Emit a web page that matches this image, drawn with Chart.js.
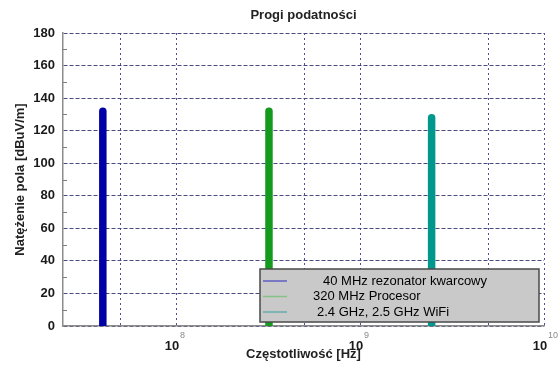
<!DOCTYPE html>
<html>
<head>
<meta charset="utf-8">
<script src="https://cdn.jsdelivr.net/npm/chart.js@4"></script>
<style>
  body { margin: 0; background: #fff; }
  #wrap { width: 560px; height: 374px; }
</style>
</head>
<body>
<div id="wrap"><canvas id="progiChart"></canvas></div>
<script>
// data
const chartTitle = 'Progi podatności';
const sources = ['40 MHz rezonator kwarcowy', '320 MHz Procesor', '2.4 GHz, 2.5 GHz WiFi'];
const frequencies = [[4e7], [3.2e8], [2.45e9]];   // Hz (the WiFi pair shows as one bar)
const levels = [132, 132, 128];                   // dBuV/m
const xTicks = [5e7, 1e8, 5e8, 1e9, 5e9, 1e10];
const yMinorTicks = [10, 30, 50, 70, 90, 110, 130, 150, 170];

const colors = ['#0000a6', '#149a1c', '#00978d'];
const legendLineColors = ['#5c5cc0', '#86c286', '#64acac'];

// one vertical stroke per frequency, split by a gap point
const datasets = sources.map((name, i) => {
  const pts = [];
  frequencies[i].forEach((f, k) => {
    if (k > 0) pts.push({ x: f, y: null });
    pts.push({ x: f, y: 0 }, { x: f, y: levels[i] });
  });
  return {
    label: name,
    data: pts,
    borderColor: colors[i],
    backgroundColor: colors[i],
    borderWidth: 7.5,
    borderCapStyle: 'round',
    pointRadius: 0,
    spanGaps: false,
    clip: 0
  };
});

const extras = {
  id: 'extras',
  afterDatasetsDraw(chart) {
    const ctx = chart.ctx;
    const area = chart.chartArea;
    const x = chart.scales.x, y = chart.scales.y;
    ctx.save();
    // title, centred over the plot area
    ctx.fillStyle = '#222';
    ctx.font = 'bold 13px Arial';
    ctx.textAlign = 'center';
    ctx.textBaseline = 'middle';
    ctx.fillText(chartTitle, (area.left + area.right) / 2, 15);
    // minor ticks on left axis
    ctx.strokeStyle = '#808080';
    ctx.lineWidth = 1;
    yMinorTicks.forEach(v => {
      const py = Math.round(y.getPixelForValue(v)) + 0.5;
      ctx.beginPath();
      ctx.moveTo(area.left, py);
      ctx.lineTo(area.left + 4, py);
      ctx.stroke();
    });
    // exponents of x tick labels
    ctx.fillStyle = '#8a8a8a';
    ctx.font = '9px Arial';
    ctx.textAlign = 'left';
    x.ticks.forEach(t => {
      if (!t.label) return;
      const px = x.getPixelForValue(t.value);
      ctx.fillText(String(Math.round(Math.log10(t.value))), px + 4, area.bottom + 10);
    });
    // legend box
    const bx = area.right - 284, by = area.bottom - 57, bw = 279, bh = 53;
    ctx.fillStyle = '#c9c9c9';
    ctx.fillRect(bx, by, bw, bh);
    ctx.strokeStyle = '#4a4a4a';
    ctx.lineWidth = 1.5;
    ctx.strokeRect(bx, by, bw, bh);
    const textX = [63, 53, 57];
    ctx.font = '13px Arial';
    sources.forEach((name, i) => {
      const ry = by + 12 + i * 15.5;
      ctx.strokeStyle = legendLineColors[i];
      ctx.lineWidth = 1.5;
      ctx.beginPath();
      ctx.moveTo(bx + 3, ry);
      ctx.lineTo(bx + 27, ry);
      ctx.stroke();
      ctx.fillStyle = '#000';
      ctx.fillText(name, bx + textX[i], ry);
    });
    ctx.restore();
  }
};

new Chart(document.getElementById('progiChart'), {
  type: 'line',
  data: { datasets: datasets },
  options: {
    responsive: true,
    maintainAspectRatio: false,
    animation: false,
    layout: { padding: { left: 0, right: 16, top: 33, bottom: 0 } },
    plugins: {
      legend: { display: false },
      tooltip: { enabled: false },
      title: { display: false }
    },
    scales: {
      x: {
        type: 'logarithmic',
        min: 2.43e7,
        max: 1e10,
        afterBuildTicks: s => { s.ticks = xTicks.map(v => ({ value: v })); },
        afterFit: s => { s.height = 48; s.paddingLeft = 0; s.paddingRight = 0; },
        ticks: {
          autoSkip: false,
          maxRotation: 0,
          padding: 13,
          labelOffset: -4,
          color: '#1a1a1a',
          font: { family: 'Arial', size: 13, weight: 'bold' },
          callback: v => (Math.abs(Math.log10(v) % 1) < 1e-9 ? '10' : '')
        },
        grid: {
          drawTicks: false,
          color: '#4e4e96',
          lineWidth: 1
        },
        border: { display: true, color: '#8c8c8c', width: 1.5, dash: [2, 3] },
        title: {
          display: true,
          text: 'Częstotliwość [Hz]',
          color: '#222',
          font: { family: 'Arial', size: 13, weight: 'bold' },
          padding: { top: 0, bottom: 12 }
        }
      },
      y: {
        min: 0,
        max: 180,
        afterFit: s => { s.width = 63; },
        ticks: {
          stepSize: 20,
          padding: 8,
          color: '#1a1a1a',
          font: { family: 'Arial', size: 13, weight: 'bold' }
        },
        grid: {
          drawTicks: false,
          color: '#4a4a7c',
          lineWidth: 1
        },
        border: { display: true, color: '#8c8c8c', width: 1.5, dash: [4, 2] },
        title: {
          display: true,
          text: 'Natężenie pola [dBuV/m]',
          color: '#222',
          font: { family: 'Arial', size: 13, weight: 'bold' },
          padding: { top: 13, bottom: 0 }
        }
      }
    }
  },
  plugins: [extras]
});
</script>
</body>
</html>
